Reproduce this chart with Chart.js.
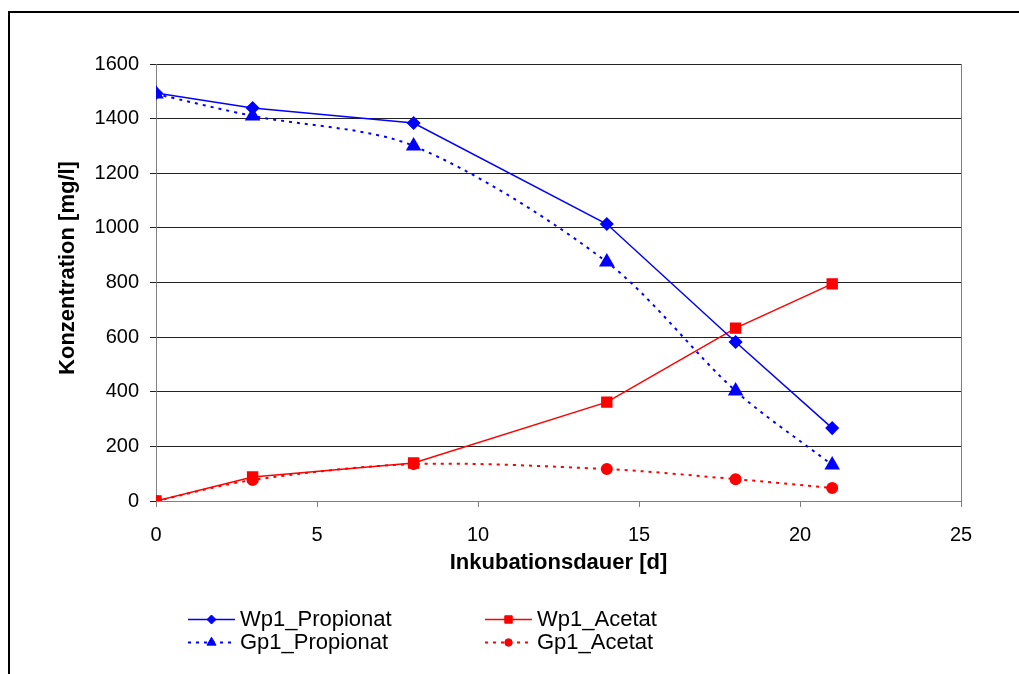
<!DOCTYPE html>
<html>
<head>
<meta charset="utf-8">
<script src="https://cdn.jsdelivr.net/npm/chart.js@4.4.1/dist/chart.umd.min.js"></script>
<style>
  html, body { margin: 0; padding: 0; background: #fff; overflow: hidden; }
  #rahmen { position: absolute; left: 8px; top: 11px; width: 1100px; height: 720px; border: 2px solid #000; }
  #wrap { position: absolute; left: 0; top: 0; width: 1019px; height: 674px; }
</style>
</head>
<body>
<div id="rahmen"></div>
<div id="wrap"><canvas id="GK1" width="1019" height="674"></canvas></div>
<script>
// Daten
var tage = [0, 3, 8, 14, 18, 21];
var wp1Propionat = [1494, 1439, 1384, 1014, 582, 267];
var gp1Propionat = [1490, 1410, 1300, 875, 403, 132];
var wp1Acetat = [0, 88, 139, 362, 633, 795];
var gp1Acetat = [0, 77, 135, 117, 80, 48];
var yTicks = [0, 200, 400, 600, 800, 1000, 1200, 1400, 1600];
var xTicks = [0, 5, 10, 15, 20, 25];
var yTitel = 'Konzentration [mg/l]';

var schrift = "'Liberation Sans', Arial, sans-serif";

function punkte(werte) {
    return tage.map(function (t, i) { return { x: t, y: werte[i] }; });
}

// Rahmen der Zeichenflaeche + Y-Titel
var rahmenPlugin = {
    id: 'rahmenPlugin',
    beforeDatasetsDraw: function (chart) {
        var a = chart.chartArea, ctx = chart.ctx;
        ctx.save();
        ctx.strokeStyle = '#808080';
        ctx.lineWidth = 1;
        ctx.beginPath();
        ctx.moveTo(a.right + 0.5, a.top);
        ctx.lineTo(a.right + 0.5, a.bottom);
        ctx.stroke();
        ctx.translate(68, 268);
        ctx.rotate(-Math.PI / 2);
        ctx.fillStyle = '#000';
        ctx.font = 'bold 22px ' + schrift;
        ctx.textAlign = 'center';
        ctx.textBaseline = 'middle';
        ctx.fillText(yTitel, 0, 0);
        ctx.restore();
    }
};

// Legende in zwei Spalten wie im Original
var legendePlugin = {
    id: 'legendePlugin',
    afterDraw: function (chart) {
        var ctx = chart.ctx;
        var pos = [
            { x: 188, y: 619 }, { x: 188, y: 642 },
            { x: 485, y: 619 }, { x: 485, y: 642 }
        ];
        ctx.save();
        chart.data.datasets.forEach(function (ds, k) {
            var p = pos[k];
            ctx.strokeStyle = ds.borderColor;
            ctx.lineWidth = ds.borderWidth;
            ctx.setLineDash(ds.borderDash || []);
            ctx.beginPath();
            ctx.moveTo(p.x, p.y + 0.5);
            ctx.lineTo(p.x + 47, p.y + 0.5);
            ctx.stroke();
            ctx.setLineDash([]);
            ctx.fillStyle = ds.pointBackgroundColor;
            ctx.strokeStyle = ds.pointBorderColor;
            ctx.lineWidth = 1;
            Chart.helpers.drawPoint(ctx, { pointStyle: ds.pointStyle, radius: ds.pointRadius * 0.75, borderWidth: 1 }, p.x + 23.5, p.y + 0.5);
            ctx.fillStyle = '#000';
            ctx.font = '22px ' + schrift;
            ctx.textBaseline = 'middle';
            ctx.fillText(ds.label, p.x + 52, p.y + 1);
        });
        ctx.restore();
    }
};

new Chart(document.getElementById('GK1'), {
    type: 'line',
    data: {
        datasets: [{
            label: 'Wp1_Propionat',
            data: punkte(wp1Propionat),
            borderColor: '#0000ff',
            pointBackgroundColor: '#0000ff',
            pointBorderColor: '#0000ff',
            borderWidth: 1.5,
            pointStyle: 'rectRot',
            pointRadius: 6,
            tension: 0
        }, {
            label: 'Gp1_Propionat',
            data: punkte(gp1Propionat),
            borderColor: '#0000ff',
            pointBackgroundColor: '#0000ff',
            pointBorderColor: '#0000ff',
            borderWidth: 2,
            borderDash: [3, 5],
            pointStyle: 'triangle',
            pointRadius: 7,
            tension: 0.3
        }, {
            label: 'Wp1_Acetat',
            data: punkte(wp1Acetat),
            borderColor: '#ff0000',
            pointBackgroundColor: '#ff0000',
            pointBorderColor: '#ff0000',
            borderWidth: 1.5,
            pointStyle: 'rect',
            pointRadius: 7,
            tension: 0
        }, {
            label: 'Gp1_Acetat',
            data: punkte(gp1Acetat),
            borderColor: '#ff0000',
            pointBackgroundColor: '#ff0000',
            pointBorderColor: '#ff0000',
            borderWidth: 2,
            borderDash: [3, 5],
            pointStyle: 'circle',
            pointRadius: 5,
            tension: 0.3
        }]
    },
    options: {
        responsive: false,
        animation: false,
        layout: { padding: { left: 52, top: 64, right: 58, bottom: 98 } },
        plugins: {
            legend: { display: false },
            tooltip: { enabled: false }
        },
        scales: {
            x: {
                type: 'linear',
                min: 0,
                max: 25,
                afterFit: function (s) { s.height = 75; },
                afterBuildTicks: function (s) { s.ticks = xTicks.map(function (v) { return { value: v }; }); },
                grid: { drawOnChartArea: false, tickLength: 6, color: '#808080' },
                border: { color: '#808080', width: 1 },
                ticks: {
                    color: '#000', font: { family: schrift, size: 20 }, padding: 16, maxRotation: 0,
                    callback: function (v) { return String(v); }
                },
                title: {
                    display: true,
                    text: 'Inkubationsdauer [d]',
                    color: '#000',
                    font: { family: schrift, size: 22, weight: 'bold' },
                    padding: { top: 0, bottom: 0 }
                }
            },
            y: {
                type: 'linear',
                min: 0,
                max: 1600,
                afterFit: function (s) { s.width = 104; },
                afterBuildTicks: function (s) { s.ticks = yTicks.map(function (v) { return { value: v }; }); },
                grid: { color: '#222', tickLength: 6, lineWidth: 1 },
                border: { color: '#808080', width: 1 },
                ticks: {
                    color: '#000', font: { family: schrift, size: 20 }, padding: 11,
                    callback: function (v) { return String(v); }
                }
            }
        }
    },
    plugins: [rahmenPlugin, legendePlugin]
});
</script>
</body>
</html>
